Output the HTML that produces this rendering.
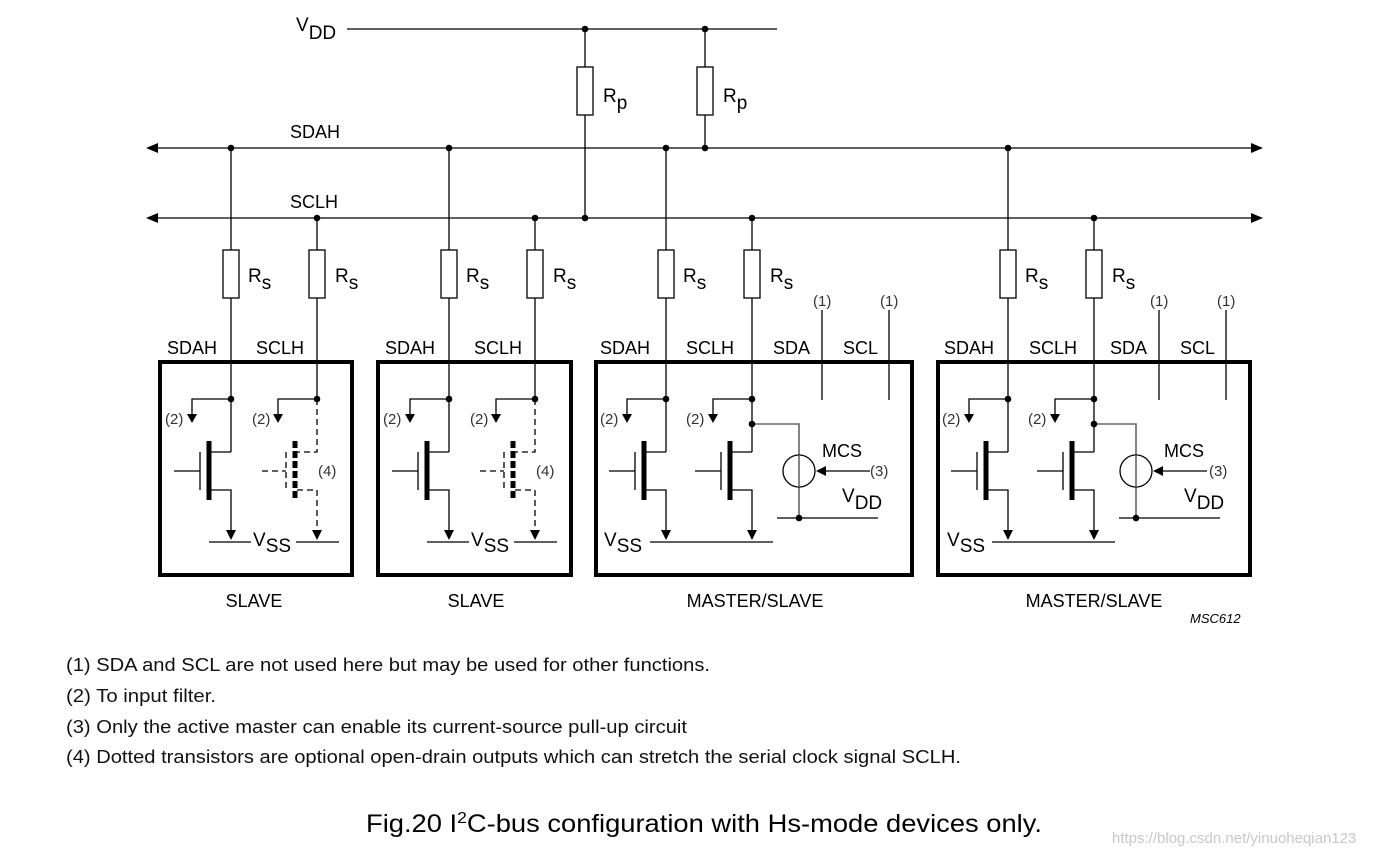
<!DOCTYPE html>
<html><head><meta charset="utf-8"><style>
html,body{margin:0;padding:0;background:#fff;}
svg{display:block;font-family:"Liberation Sans",Arial,sans-serif;}
</style></head><body>
<svg width="1379" height="857" viewBox="0 0 1379 857" xmlns="http://www.w3.org/2000/svg">
<defs>
<g id="x"></g>
</defs>
<g stroke="#000" stroke-width="1.3" fill="none">
 <!-- VDD -->
 <line x1="347" y1="29" x2="777" y2="29"/>
 <line x1="585" y1="29" x2="585" y2="218"/>
 <line x1="705" y1="29" x2="705" y2="148"/>
 <rect x="577" y="67" width="16" height="48" fill="#fff"/>
 <rect x="697" y="67" width="16" height="48" fill="#fff"/>
 <!-- buses -->
 <line x1="155" y1="148" x2="1254" y2="148"/>
 <line x1="155" y1="218" x2="1254" y2="218"/>
</g>
<g fill="#000">
 <polygon points="146,148 158,143 158,153"/>
 <polygon points="146,218 158,213 158,223"/>
 <polygon points="1263,148 1251,143 1251,153"/>
 <polygon points="1263,218 1251,213 1251,223"/>
 <circle cx="585" cy="29" r="3.3"/><circle cx="705" cy="29" r="3.3"/>
 <circle cx="705" cy="148" r="3.3"/><circle cx="585" cy="218" r="3.3"/>
</g>
<g font-size="19">
 <text x="296" y="31">V<tspan font-size="19" dy="8">DD</tspan></text>
 <text x="603" y="102">R<tspan dy="7">p</tspan></text>
 <text x="723" y="102">R<tspan dy="7">p</tspan></text>
 <text x="290" y="138" font-size="18">SDAH</text>
 <text x="290" y="208" font-size="18">SCLH</text>
</g>

<!-- Slave unit -->
<g id="slave">
 <g stroke="#000" stroke-width="1.3" fill="none">
  <line x1="231" y1="148" x2="231" y2="452"/>
  <line x1="317" y1="218" x2="317" y2="399"/>
  <rect x="223" y="250" width="16" height="48" fill="#fff"/>
  <rect x="309" y="250" width="16" height="48" fill="#fff"/>
  <rect x="160" y="362" width="192" height="213" stroke-width="4"/>
  <polyline points="231,399 192,399 192,414"/>
  <polyline points="317,399 278,399 278,414"/>
  <line x1="211" y1="452" x2="231" y2="452"/>
  <polyline points="211,490 231,490 231,530"/>
  <line x1="200" y1="452" x2="200" y2="490"/>
  <line x1="174" y1="471" x2="200" y2="471"/>
  <line x1="209" y1="542" x2="251" y2="542"/>
  <line x1="296" y1="542" x2="339" y2="542"/>
  <g stroke-dasharray="6,4">
   <polyline points="317,399 317,452 297,452"/>
   <polyline points="297,490 317,490 317,530"/>
   <line x1="286" y1="452" x2="286" y2="490"/>
   <line x1="262" y1="471" x2="286" y2="471"/>
  </g>
  <line x1="295" y1="441" x2="295" y2="500" stroke-width="5" stroke-dasharray="7,3"/>
  <line x1="209" y1="441" x2="209" y2="500" stroke-width="5"/>
 </g>
 <g fill="#000">
  <circle cx="231" cy="148" r="3.3"/><circle cx="317" cy="218" r="3.3"/>
  <circle cx="231" cy="399" r="3.3"/><circle cx="317" cy="399" r="3.3"/>
  <polygon points="187,414 197,414 192,423"/>
  <polygon points="273,414 283,414 278,423"/>
  <polygon points="226,530 236,530 231,540"/>
  <polygon points="312,530 322,530 317,540"/>
 </g>
 <g font-size="19">
  <text x="248" y="282">R<tspan dy="7">s</tspan></text>
  <text x="335" y="282">R<tspan dy="7">s</tspan></text>
  <text x="167" y="354" font-size="18">SDAH</text>
  <text x="256" y="354" font-size="18">SCLH</text>
  <text x="253" y="546">V<tspan dy="6">SS</tspan></text>
  <text x="165" y="424" font-size="15" fill="#333">(2)</text>
  <text x="252" y="424" font-size="15" fill="#333">(2)</text>
  <text x="318" y="476" font-size="15" fill="#333">(4)</text>
 </g>
</g>
<g transform="translate(218,0)">
 <g stroke="#000" stroke-width="1.3" fill="none">
  <line x1="231" y1="148" x2="231" y2="452"/>
  <line x1="317" y1="218" x2="317" y2="399"/>
  <rect x="223" y="250" width="16" height="48" fill="#fff"/>
  <rect x="309" y="250" width="16" height="48" fill="#fff"/>
  <rect x="160" y="362" width="193" height="213" stroke-width="4"/>
  <polyline points="231,399 192,399 192,414"/>
  <polyline points="317,399 278,399 278,414"/>
  <line x1="211" y1="452" x2="231" y2="452"/>
  <polyline points="211,490 231,490 231,530"/>
  <line x1="200" y1="452" x2="200" y2="490"/>
  <line x1="174" y1="471" x2="200" y2="471"/>
  <line x1="209" y1="542" x2="251" y2="542"/>
  <line x1="296" y1="542" x2="339" y2="542"/>
  <g stroke-dasharray="6,4">
   <polyline points="317,399 317,452 297,452"/>
   <polyline points="297,490 317,490 317,530"/>
   <line x1="286" y1="452" x2="286" y2="490"/>
   <line x1="262" y1="471" x2="286" y2="471"/>
  </g>
  <line x1="295" y1="441" x2="295" y2="500" stroke-width="5" stroke-dasharray="7,3"/>
  <line x1="209" y1="441" x2="209" y2="500" stroke-width="5"/>
 </g>
 <g fill="#000">
  <circle cx="231" cy="148" r="3.3"/><circle cx="317" cy="218" r="3.3"/>
  <circle cx="231" cy="399" r="3.3"/><circle cx="317" cy="399" r="3.3"/>
  <polygon points="187,414 197,414 192,423"/>
  <polygon points="273,414 283,414 278,423"/>
  <polygon points="226,530 236,530 231,540"/>
  <polygon points="312,530 322,530 317,540"/>
 </g>
 <g font-size="19">
  <text x="248" y="282">R<tspan dy="7">s</tspan></text>
  <text x="335" y="282">R<tspan dy="7">s</tspan></text>
  <text x="167" y="354" font-size="18">SDAH</text>
  <text x="256" y="354" font-size="18">SCLH</text>
  <text x="253" y="546">V<tspan dy="6">SS</tspan></text>
  <text x="165" y="424" font-size="15" fill="#333">(2)</text>
  <text x="252" y="424" font-size="15" fill="#333">(2)</text>
  <text x="318" y="476" font-size="15" fill="#333">(4)</text>
 </g>
</g>

<!-- Master units -->
<g transform="translate(435,0)">
 <g stroke="#000" stroke-width="1.3" fill="none">
  <line x1="231" y1="148" x2="231" y2="452"/>
  <line x1="317" y1="218" x2="317" y2="452"/>
  <rect x="223" y="250" width="16" height="48" fill="#fff"/>
  <rect x="309" y="250" width="16" height="48" fill="#fff"/>
  <rect x="161" y="362" width="316" height="213" stroke-width="4"/>
  <polyline points="231,399 192,399 192,414"/>
  <polyline points="317,399 278,399 278,414"/>
  <line x1="211" y1="452" x2="231" y2="452"/>
  <polyline points="211,490 231,490 231,530"/>
  <line x1="200" y1="452" x2="200" y2="490"/>
  <line x1="174" y1="471" x2="200" y2="471"/>
  <line x1="297" y1="452" x2="317" y2="452"/>
  <polyline points="297,490 317,490 317,530"/>
  <line x1="286" y1="452" x2="286" y2="490"/>
  <line x1="260" y1="471" x2="286" y2="471"/>
  <line x1="209" y1="441" x2="209" y2="500" stroke-width="5"/>
  <line x1="295" y1="441" x2="295" y2="500" stroke-width="5"/>
  <line x1="215" y1="542" x2="338" y2="542"/>
  <line x1="342" y1="518" x2="443" y2="518"/>
  <polyline points="317,424 364,424 364,518" stroke="#666" stroke-width="1.6"/>
  <circle cx="364" cy="471" r="16" fill="#fff"/>
  <line x1="364" y1="455" x2="364" y2="487" stroke="#666" stroke-width="1.6"/>
  <line x1="390" y1="471" x2="435" y2="471"/>
  <line x1="387" y1="310" x2="387" y2="400"/>
  <line x1="454" y1="310" x2="454" y2="400"/>
 </g>
 <g fill="#000">
  <circle cx="231" cy="148" r="3.3"/><circle cx="317" cy="218" r="3.3"/>
  <circle cx="231" cy="399" r="3.3"/><circle cx="317" cy="399" r="3.3"/>
  <circle cx="317" cy="424" r="3.3"/><circle cx="364" cy="518" r="3.3"/>
  <polygon points="187,414 197,414 192,423"/>
  <polygon points="273,414 283,414 278,423"/>
  <polygon points="226,530 236,530 231,540"/>
  <polygon points="312,530 322,530 317,540"/>
  <polygon points="381,471 391,466 391,476"/>
 </g>
 <g font-size="19">
  <text x="248" y="282">R<tspan dy="7">s</tspan></text>
  <text x="335" y="282">R<tspan dy="7">s</tspan></text>
  <text x="165" y="354" font-size="18">SDAH</text>
  <text x="251" y="354" font-size="18">SCLH</text>
  <text x="338" y="354" font-size="18">SDA</text>
  <text x="408" y="354" font-size="18">SCL</text>
  <text x="378" y="306" font-size="15" fill="#333">(1)</text>
  <text x="445" y="306" font-size="15" fill="#333">(1)</text>
  <text x="169" y="546">V<tspan dy="6">SS</tspan></text>
  <text x="407" y="502">V<tspan dy="7">DD</tspan></text>
  <text x="387" y="457" font-size="18">MCS</text>
  <text x="435" y="476" font-size="15" fill="#333">(3)</text>
  <text x="165" y="424" font-size="15" fill="#333">(2)</text>
  <text x="251" y="424" font-size="15" fill="#333">(2)</text>
 </g>
</g>
<g transform="translate(777,0)">
 <g stroke="#000" stroke-width="1.3" fill="none">
  <line x1="231" y1="148" x2="231" y2="452"/>
  <line x1="317" y1="218" x2="317" y2="452"/>
  <rect x="223" y="250" width="16" height="48" fill="#fff"/>
  <rect x="309" y="250" width="16" height="48" fill="#fff"/>
  <rect x="161" y="362" width="312" height="213" stroke-width="4"/>
  <polyline points="231,399 192,399 192,414"/>
  <polyline points="317,399 278,399 278,414"/>
  <line x1="211" y1="452" x2="231" y2="452"/>
  <polyline points="211,490 231,490 231,530"/>
  <line x1="200" y1="452" x2="200" y2="490"/>
  <line x1="174" y1="471" x2="200" y2="471"/>
  <line x1="297" y1="452" x2="317" y2="452"/>
  <polyline points="297,490 317,490 317,530"/>
  <line x1="286" y1="452" x2="286" y2="490"/>
  <line x1="260" y1="471" x2="286" y2="471"/>
  <line x1="209" y1="441" x2="209" y2="500" stroke-width="5"/>
  <line x1="295" y1="441" x2="295" y2="500" stroke-width="5"/>
  <line x1="215" y1="542" x2="338" y2="542"/>
  <line x1="342" y1="518" x2="443" y2="518"/>
  <polyline points="317,424 359,424 359,518" stroke="#666" stroke-width="1.6"/>
  <circle cx="359" cy="471" r="16" fill="#fff"/>
  <line x1="359" y1="455" x2="359" y2="487" stroke="#666" stroke-width="1.6"/>
  <line x1="385" y1="471" x2="430" y2="471"/>
  <line x1="382" y1="310" x2="382" y2="400"/>
  <line x1="449" y1="310" x2="449" y2="400"/>
 </g>
 <g fill="#000">
  <circle cx="231" cy="148" r="3.3"/><circle cx="317" cy="218" r="3.3"/>
  <circle cx="231" cy="399" r="3.3"/><circle cx="317" cy="399" r="3.3"/>
  <circle cx="317" cy="424" r="3.3"/><circle cx="359" cy="518" r="3.3"/>
  <polygon points="187,414 197,414 192,423"/>
  <polygon points="273,414 283,414 278,423"/>
  <polygon points="226,530 236,530 231,540"/>
  <polygon points="312,530 322,530 317,540"/>
  <polygon points="376,471 386,466 386,476"/>
 </g>
 <g font-size="19">
  <text x="248" y="282">R<tspan dy="7">s</tspan></text>
  <text x="335" y="282">R<tspan dy="7">s</tspan></text>
  <text x="167" y="354" font-size="18">SDAH</text>
  <text x="252" y="354" font-size="18">SCLH</text>
  <text x="333" y="354" font-size="18">SDA</text>
  <text x="403" y="354" font-size="18">SCL</text>
  <text x="373" y="306" font-size="15" fill="#333">(1)</text>
  <text x="440" y="306" font-size="15" fill="#333">(1)</text>
  <text x="170" y="546">V<tspan dy="6">SS</tspan></text>
  <text x="407" y="502">V<tspan dy="7">DD</tspan></text>
  <text x="387" y="457" font-size="18">MCS</text>
  <text x="432" y="476" font-size="15" fill="#333">(3)</text>
  <text x="165" y="424" font-size="15" fill="#333">(2)</text>
  <text x="251" y="424" font-size="15" fill="#333">(2)</text>
 </g>
</g>

<g font-size="18" text-anchor="middle">
 <text x="254" y="607">SLAVE</text>
 <text x="476" y="607">SLAVE</text>
 <text x="755" y="607">MASTER/SLAVE</text>
 <text x="1094" y="607">MASTER/SLAVE</text>
</g>
<text x="1190" y="623" font-size="13" font-style="italic">MSC612</text>
<g font-size="18" fill="#111">
 <text x="66" y="671" textLength="644" lengthAdjust="spacingAndGlyphs">(1) SDA and SCL are not used here but may be used for other functions.</text>
 <text x="66" y="702" textLength="150" lengthAdjust="spacingAndGlyphs">(2) To input filter.</text>
 <text x="66" y="733" textLength="621" lengthAdjust="spacingAndGlyphs">(3) Only the active master can enable its current-source pull-up circuit</text>
 <text x="66" y="763" textLength="895" lengthAdjust="spacingAndGlyphs">(4) Dotted transistors are optional open-drain outputs which can stretch the serial clock signal SCLH.</text>
</g>
<text x="366" y="832" font-size="25" textLength="676" lengthAdjust="spacingAndGlyphs">Fig.20  I<tspan font-size="16" dy="-9">2</tspan><tspan dy="9">C-bus configuration with Hs-mode devices only.</tspan></text>
<text x="1112" y="843" font-size="15" fill="#c8c8c8">https://blog.csdn.net/yinuoheqian123</text>
</svg>
</body></html>
